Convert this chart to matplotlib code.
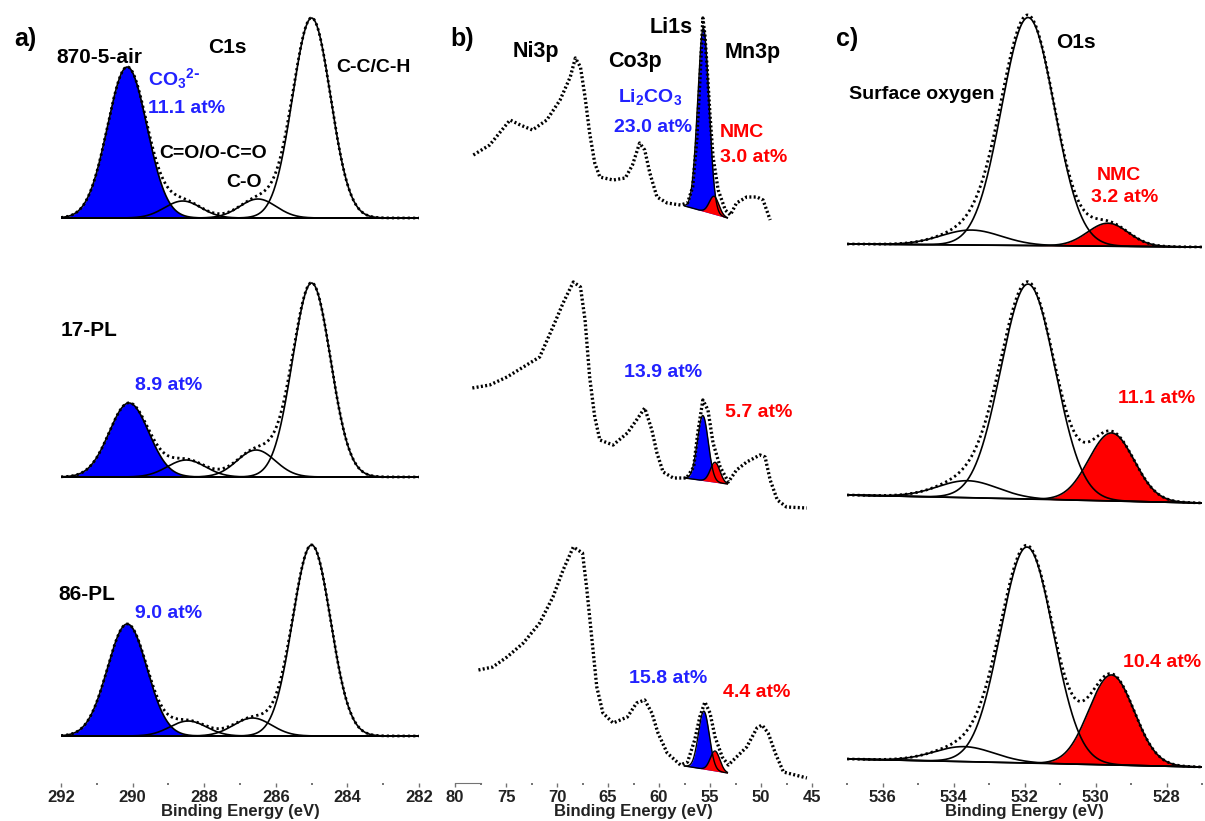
import numpy as np
import matplotlib
matplotlib.use("Agg")
import matplotlib.pyplot as plt
from matplotlib.ticker import MultipleLocator

W, H = 1205, 821
plt.rcParams["font.family"] = ["Liberation Sans", "DejaVu Sans"]
plt.rcParams["font.weight"] = "bold"
plt.rcParams["mathtext.default"] = "regular"

BLUE = "#0000ff"
RED = "#ff0000"
TXT_BLUE = "#2222ff"

# ── a) C1s fit components: CO3, C=O/O-C=O, C-O, C-C/C-H (centre eV, height, FWHM eV)
c1s_samples = ["870-5-air", "17-PL", "86-PL"]
c1s_co3_pct = ["11.1 at%", "8.9 at%", "9.0 at%"]
c1s_centre = [[290.15, 288.60, 286.50, 285.00],
              [290.10, 288.50, 286.55, 285.00],
              [290.15, 288.45, 286.65, 285.00]]
c1s_height = [[151, 17, 19, 200],
              [74, 17, 27, 194],
              [112, 15, 18, 191]]
c1s_fwhm = [[1.30, 1.20, 1.20, 1.25],
            [1.30, 1.25, 1.25, 1.25],
            [1.30, 1.20, 1.25, 1.25]]

# ── b) Ni3p / Co3p / Li1s / Mn3p region, measured spectrum per sample
b_be_1 = [78.2, 76.6, 74.6, 73.6, 72.4, 71.0, 69.7, 68.7, 68.2, 67.7,
          67.25, 66.8, 66.3, 65.8, 64.5, 63.3, 62.6, 61.9, 61.4, 60.9,
          60.2, 59.2, 57.9, 57.2, 56.7, 56.3, 56.0, 55.7, 55.5, 55.3,
          55.0, 54.7, 54.2, 53.5, 53.0, 52.4, 51.4, 50.4, 49.8, 49.1]
b_int_1 = [70, 80, 105, 100, 95, 105, 125, 148, 167, 158,
           128, 92, 62, 48, 45, 47, 60, 82, 75, 52,
           28, 22, 20, 22, 38, 85, 142, 207, 190, 160,
           110, 68, 35, 15, 10, 22, 28, 28, 25, 5]
b_be_2 = [78.3, 76.6, 74.9, 73.3, 71.7, 70.4, 69.4, 68.4, 67.7, 67.25,
          66.8, 66.3, 65.8, 64.5, 63.1, 62.2, 61.4, 60.7, 60.2, 59.6,
          58.6, 57.3, 56.6, 56.2, 55.7, 55.2, 54.7, 54.0, 53.2, 52.4,
          51.4, 50.1, 49.6, 49.1, 48.4, 47.5, 45.5]
b_int_2 = [127, 130, 138, 148, 158, 188, 212, 233, 228, 195,
           138, 98, 75, 70, 82, 95, 107, 85, 62, 43,
           37, 37, 48, 82, 115, 105, 72, 48, 33, 45,
           53, 60, 58, 35, 15, 8, 7]
b_be_3 = [77.7, 76.3, 74.9, 73.3, 71.7, 70.4, 69.4, 68.4, 67.5, 67.1,
          66.6, 66.1, 65.5, 64.5, 63.1, 62.2, 61.4, 60.7, 60.1, 59.2,
          57.9, 57.2, 56.5, 56.0, 55.5, 55.0, 54.5, 53.8, 53.2, 52.4,
          51.4, 50.4, 49.9, 49.3, 48.6, 47.8, 45.5]
b_int_3 = [110, 113, 123, 137, 157, 183, 210, 233, 227, 193,
           143, 93, 67, 57, 63, 77, 80, 67, 47, 27,
           15, 18, 40, 63, 78, 67, 43, 23, 15, 23,
           33, 52, 55, 47, 27, 8, 2]
li_centre = [55.65, 55.70, 55.60]        # Li2CO3 component
li_height = [183, 65, 58]
li_fwhm = [1.3, 1.25, 1.25]
nmc_li_centre = [54.6, 54.5, 54.5]       # NMC Li component
nmc_li_height = [18, 20, 20]
nmc_li_fwhm = [1.1, 1.1, 1.1]
li_bg = [(19, 7), (37, 31), (14, 7)]     # background at 57.5 / 53.3 eV
li_range = (57.5, 53.3)
li_pct = ["23.0 at%", "13.9 at%", "15.8 at%"]
nmc_li_pct = ["3.0 at%", "5.7 at%", "4.4 at%"]

# ── c) O1s fit components: surface oxygen, main, NMC lattice O
o1s_centre = [[533.5, 531.90, 529.65],
              [533.6, 531.90, 529.55],
              [533.7, 531.93, 529.55]]
o1s_height = [[15, 228, 23],
              [17, 215, 68],
              [15, 216, 90]]
o1s_fwhm = [[2.0, 1.75, 1.35],
            [2.0, 1.80, 1.50],
            [2.0, 1.75, 1.50]]
o1s_bg = [(0, -3), (0, -8), (0, -8)]     # background at 537 / 527 eV
o1s_nmc_pct = ["3.2 at%", "11.1 at%", "10.4 at%"]

# layout: vertical stacking offsets of the three samples in each panel
A_BASE = [565, 306, 47]
B_BASE = [558, 268, 3]
C_BASE = [539, 288, 24]

DOTS = (0, (0.8, 1.1))
DOTS_B = (0, (0.6, 0.7))


def gauss(x, c, h, w):
    return h * np.exp(-4 * np.log(2) * ((x - c) / w) ** 2)


def style_axis(ax, lim, major, minor):
    ax.set_xlim(*lim)
    ax.set_ylim(0, 773)
    ax.xaxis.set_major_locator(MultipleLocator(major))
    ax.xaxis.set_minor_locator(MultipleLocator(minor))
    ax.tick_params(axis="x", which="major", length=3, width=1, pad=1.8,
                   color="0.45", labelsize=12, labelcolor="#222222")
    ax.tick_params(axis="x", which="minor", length=1.2, width=1.4, color="0.45")
    ax.set_yticks([])
    for s in ("left", "right", "top", "bottom"):
        ax.spines[s].set_visible(False)
    ax.set_xlabel("Binding Energy (eV)", fontsize=12, fontweight="bold", color="#222222")
    ax.xaxis.set_label_coords(0.5, -0.027)
    for t in ax.get_xticklabels():
        t.set_fontweight("bold")


fig = plt.figure(figsize=(W / 100, H / 100), dpi=100)
bottom, height = (821 - 783) / H, 773 / H
ax_a = fig.add_axes([61 / W, bottom, 358 / W, height])
ax_b = fig.add_axes([455 / W, bottom, 357 / W, height])
ax_c = fig.add_axes([847 / W, bottom, 355 / W, height])

# ── panel a
xa = np.linspace(292, 282, 800)
for i, off in enumerate(A_BASE):
    comps = [gauss(xa, c, h, w) for c, h, w in zip(c1s_centre[i], c1s_height[i], c1s_fwhm[i])]
    ax_a.fill_between(xa, off, off + comps[0], color=BLUE, lw=0)
    ax_a.plot(xa, np.full_like(xa, off), color="black", lw=1.2)
    for g in comps:
        ax_a.plot(xa, off + g, color="black", lw=1.2)
    ax_a.plot(xa, off + np.sum(comps, axis=0), color="black", lw=2.0, ls=DOTS)
style_axis(ax_a, (292, 282), 2, 1)

# ── panel b
b_series = [(b_be_1, b_int_1), (b_be_2, b_int_2), (b_be_3, b_int_3)]
xb = np.linspace(li_range[0], li_range[1], 300)
for i, off in enumerate(B_BASE):
    bg = np.interp(xb, li_range[::-1], li_bg[i][::-1])
    g_li = gauss(xb, li_centre[i], li_height[i], li_fwhm[i])
    g_nmc = gauss(xb, nmc_li_centre[i], nmc_li_height[i], nmc_li_fwhm[i])
    ax_b.fill_between(xb, off + bg, off + bg + g_li, color=BLUE, lw=0)
    ax_b.plot(xb, off + bg + g_li, color="black", lw=1.0)
    ax_b.fill_between(xb, off + bg, off + bg + g_nmc, color=RED, lw=0)
    ax_b.plot(xb, off + bg + g_nmc, color="black", lw=1.0)
    be, inten = b_series[i]
    ax_b.plot(be, off + np.array(inten), color="black", lw=2.4, ls=DOTS_B)
style_axis(ax_b, (80, 45), 5, 2.5)
ax_b.spines["bottom"].set_visible(True)
ax_b.spines["bottom"].set_bounds(80, 77.5)
ax_b.spines["bottom"].set_color("0.45")

# ── panel c
xc = np.linspace(537, 527, 800)
for i, off in enumerate(C_BASE):
    bg = np.interp(xc, [527, 537], [o1s_bg[i][1], o1s_bg[i][0]])
    comps = [gauss(xc, c, h, w) for c, h, w in zip(o1s_centre[i], o1s_height[i], o1s_fwhm[i])]
    ax_c.fill_between(xc, off + bg, off + bg + comps[2], color=RED, lw=0)
    ax_c.plot(xc, off + bg, color="black", lw=1.2)
    for g in comps:
        ax_c.plot(xc, off + bg + g, color="black", lw=1.2)
    ax_c.plot(xc, off + bg + np.sum(comps, axis=0), color="black", lw=2.0, ls=DOTS)
style_axis(ax_c, (537, 527), 2, 1)


def label(x, y, s, color="black", size=14, ha="center", va="baseline"):
    fig.text(x / W, 1 - y / H, s, color=color, fontsize=size,
             fontweight="bold", ha=ha, va=va)


# panel a texts
label(25, 39, "a)", size=18, va="center")
label(99, 63, c1s_samples[0], size=15)
label(227, 53, "C1s", size=15)
label(373, 72, "C-C/C-H")
label(148, 85, r"CO$_3$$^{2\text{-}}$", color=TXT_BLUE, ha="left")
label(148, 113, c1s_co3_pct[0], color=TXT_BLUE, ha="left")
label(213, 158, "C=O/O-C=O")
label(244, 187, "C-O")
label(89, 336, c1s_samples[1], size=15)
label(169, 390, c1s_co3_pct[1], color=TXT_BLUE)
label(87, 600, c1s_samples[2], size=15)
label(169, 618, c1s_co3_pct[2], color=TXT_BLUE)

# panel b texts
label(462, 39, "b)", size=18, va="center")
label(536, 57, "Ni3p", size=15.5)
label(635, 67, "Co3p", size=15.5)
label(671, 33, "Li1s", size=15.5)
label(753, 58, "Mn3p", size=15.5)
label(650, 102, "Li$_2$CO$_3$", color=TXT_BLUE)
label(653, 132, li_pct[0], color=TXT_BLUE)
label(742, 137, "NMC", color=RED)
label(754, 162, nmc_li_pct[0], color=RED)
label(663, 377, li_pct[1], color=TXT_BLUE)
label(759, 417, nmc_li_pct[1], color=RED)
label(668, 683, li_pct[2], color=TXT_BLUE)
label(757, 697, nmc_li_pct[2], color=RED)

# panel c texts
label(847, 39, "c)", size=18, va="center")
label(1076, 48, "O1s", size=15)
label(922, 99, "Surface oxygen")
label(1119, 180, "NMC", color=RED)
label(1125, 202, o1s_nmc_pct[0], color=RED)
label(1157, 403, o1s_nmc_pct[1], color=RED)
label(1162, 667, o1s_nmc_pct[2], color=RED)

fig.savefig("out.png", dpi=100)
